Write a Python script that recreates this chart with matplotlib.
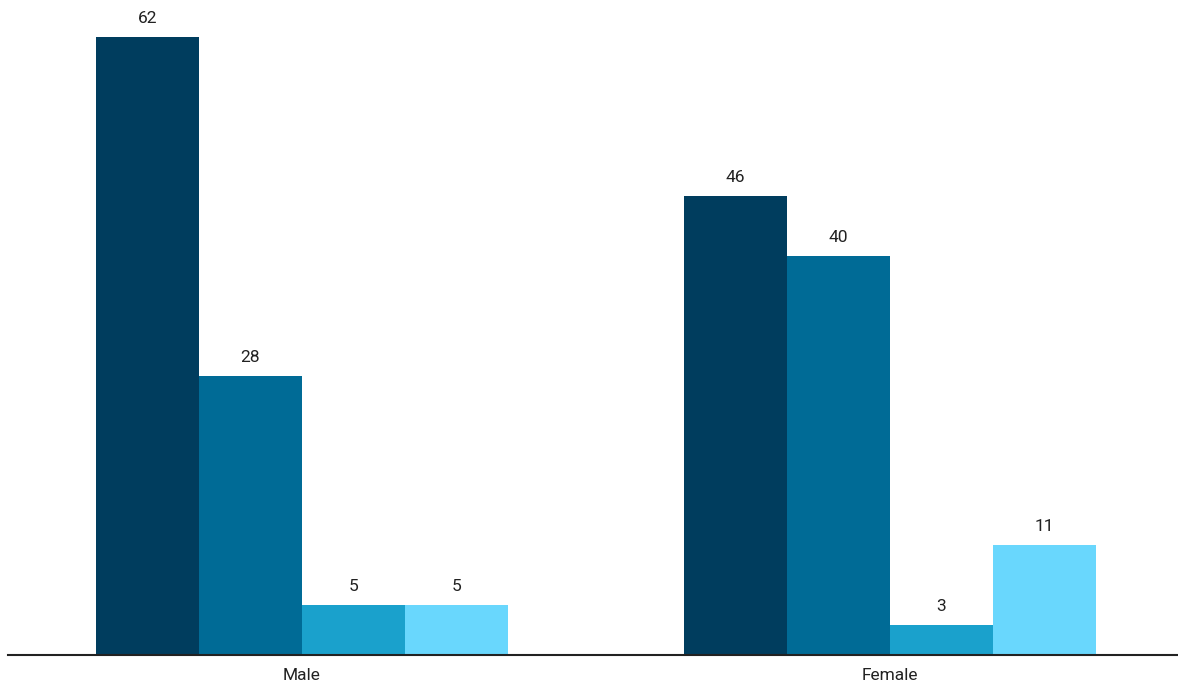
import matplotlib
matplotlib.use("Agg")
import matplotlib.pyplot as plt
import numpy as np

categories = ["Male", "Female"]
series_a = [62, 46]
series_b = [28, 40]
series_c = [5, 3]
series_d = [5, 11]
colors = ["#003d5e", "#006b96", "#1aa1cc", "#69d7fd"]

plt.rcParams["font.family"] = ["Roboto", "DejaVu Sans"]

fig = plt.figure(figsize=(11.78, 6.85), dpi=100)
ax = fig.add_axes([8 / 1178, 30 / 685, 1 - 8 / 1178, 655 / 685])

x = np.arange(len(categories))
w = 0.175
for k, (vals, c) in enumerate(zip([series_a, series_b, series_c, series_d], colors)):
    pos = x + (k - 1.5) * w
    ax.bar(pos, vals, width=w, color=c, linewidth=0)
    for p, v in zip(pos, vals):
        ax.text(p, v + 1.1, str(v), ha="center", va="bottom", fontsize=12.5, color="#222222")

ax.set_xlim(-0.5, 1.49)
ax.set_ylim(0, 65.7)
ax.set_xticks(x)
ax.set_xticklabels(categories, fontsize=12.5, color="#222222")
ax.tick_params(axis="x", length=0, pad=9)
ax.set_yticks([])
for s in ["top", "right", "left"]:
    ax.spines[s].set_visible(False)
ax.spines["bottom"].set_color("#222222")
ax.spines["bottom"].set_linewidth(1.5)

fig.savefig("out.png", dpi=100)
